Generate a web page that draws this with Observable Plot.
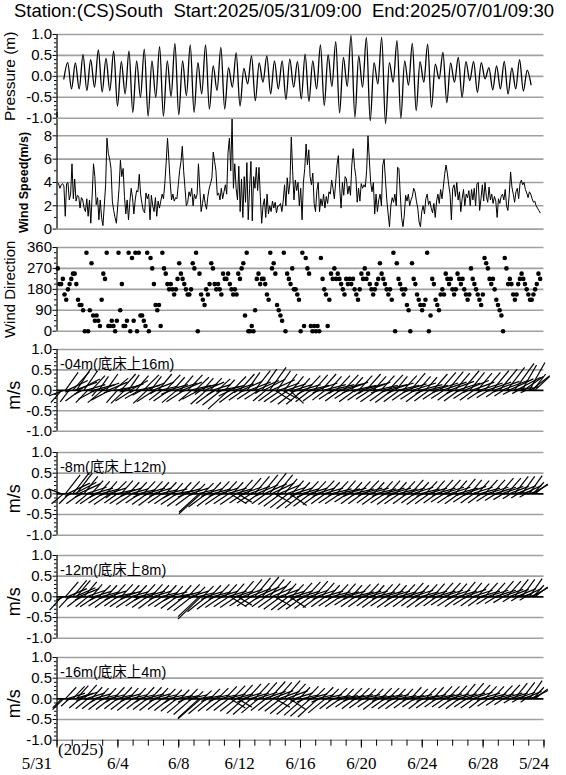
<!DOCTYPE html>
<html><head><meta charset="utf-8">
<script src="https://cdn.jsdelivr.net/npm/d3@7"></script>
<script src="https://cdn.jsdelivr.net/npm/@observablehq/plot@0.6"></script>
<style>
body{margin:0;background:#fff}
#chart{position:relative;width:566px;height:775px;overflow:hidden;background:#fff}
#title{position:absolute;left:14px;top:1px;font:18.5px "Liberation Sans",Arial,sans-serif;line-height:20px;white-space:pre;color:#000}
</style></head><body><div id="chart"><div id="title"></div></div>
<script>
// ---------- DATA ----------
const titleText = "Station:(CS)South  Start:2025/05/31/09:00  End:2025/07/01/09:30";

// Pressure (m): successive highs/lows of the tide curve
const pressureExtremes = [-0.06,
0.33,-0.30,0.32,-0.30,0.52,-0.34,0.40,-0.26,0.63,-0.37,0.43,-0.34,0.60,-0.71,0.35,-0.42,0.60,-0.86,0.37,-0.50,
0.65,-0.95,0.37,-0.50,0.71,-0.95,0.37,-0.48,0.79,-0.92,0.37,-0.46,0.75,-0.86,0.33,-0.42,0.75,-0.78,0.25,-0.34,
0.69,-0.78,0.21,-0.26,0.56,-0.71,0.19,-0.18,0.49,-0.58,0.32,-0.14,0.49,-0.42,
0.37,-0.30,0.37,-0.55,0.41,-0.26,0.35,-0.54,0.53,-0.60,0.37,-0.30,0.75,-0.70,0.51,-0.24,0.83,-0.87,0.45,-0.24,
0.98,-0.98,0.49,-0.26,0.93,-1.06,0.33,-0.18,0.93,-1.13,0.33,-0.14,0.85,-1.00,0.37,-0.21,0.79,-0.82,0.35,-0.14,
0.77,-0.74,0.29,-0.06,0.57,-0.63,0.32,-0.14,0.45,-0.50,0.35,-0.10,0.35,-0.38,0.33,-0.06,0.21,-0.32,
0.25,-0.30,0.36,-0.42,0.20,-0.30,0.40,-0.35,0.15,-0.20];
const pressureStart = 0.45, pressureEnd = 31.15; // days after 5/31 00:00

// Wind speed (m/s)
const windSpeed = [3.9,3.5,3.8,3.9,3.7,1.1,3.9,4.0,2.5,3.0,5.6,2.6,4.3,2.4,2.9,2.8,1.8,2.7,2.5,1.8,1.5,2.6,1.1,2.5,0.5,2.9,5.6,4.5,2.1,2.7,
0.8,2.5,1.0,0.3,2.0,3.8,7.8,6.5,6.0,5.2,2.4,1.6,1.0,0.5,2.0,3.5,5.9,4.5,5.2,2.8,1.3,2.5,0.8,2.3,3.5,2.7,1.3,2.5,3.3,3.2,
4.7,3.0,2.2,1.6,1.4,3.1,2.6,3.0,0.8,2.9,2.0,1.5,2.7,1.1,2.4,1.8,2.4,3.0,2.6,3.9,5.7,7.8,6.0,4.0,2.5,3.0,2.4,2.7,2.6,3.8,
5.0,5.8,7.1,5.0,3.5,2.0,2.3,3.2,2.8,3.5,2.0,3.0,2.6,3.0,5.6,3.5,1.5,2.2,3.0,2.2,1.7,2.8,3.5,3.9,4.4,6.6,5.8,5.0,2.9,3.1,
2.5,3.5,2.6,3.2,3.8,3.0,6.6,7.8,5.0,9.5,3.5,5.6,3.5,2.5,5.4,1.5,4.3,1.0,4.5,2.3,5.7,0.8,3.5,5.8,0.7,4.5,3.5,5.3,3.3,5.3,
2.8,0.5,2.0,2.6,1.0,3.0,1.3,2.0,1.5,2.4,1.8,2.3,1.4,2.0,
2.0,2.2,1.5,2.4,3.8,2.0,4.4,3.0,4.0,7.9,5.0,2.5,4.2,3.3,4.0,2.0,3.5,0.8,4.0,5.2,7.3,5.5,6.8,4.5,3.8,4.8,2.2,1.5,3.3,4.0,
1.5,2.6,2.0,3.0,1.8,2.8,2.2,3.2,3.0,4.2,3.5,2.6,4.0,5.5,6.3,3.5,1.8,4.0,2.9,4.5,4.3,3.0,3.7,2.9,5.5,6.9,5.3,4.5,2.3,3.5,
2.4,3.9,3.5,3.8,3.6,5.0,8.0,6.0,4.0,3.2,4.0,1.3,3.0,1.5,2.5,3.0,2.0,5.5,6.0,4.2,2.5,1.3,0.2,2.0,2.7,2.3,3.0,2.0,5.3,5.2,
3.0,1.0,0.2,1.2,2.9,2.4,3.0,2.0,2.5,2.8,3.5,3.2,2.4,1.8,0.6,0.2,1.5,2.0,1.3,2.6,3.0,2.1,2.4,1.8,1.4,2.2,1.0,2.4,3.0,2.2,
3.4,2.6,3.6,4.7,5.5,4.8,3.8,3.0,0.8,3.5,3.8,2.8,4.0,2.5,3.2,1.5,2.6,3.4,2.0,3.0,2.7,3.3,2.0,3.4,2.5,3.5,2.0,3.9,4.0,1.6,
2.6,3.8,2.4,4.0,2.8,2.3,3.6,2.5,3.0,2.2,2.8,2.4,1.0,2.6,2.2,2.8,3.0,
2.5,3.4,2.0,1.6,3.0,4.9,3.6,3.0,2.3,3.2,3.5,2.6,3.9,4.2,3.8,4.0,3.4,3.1,2.7,3.2,3.0,2.6,2.3,2.4,2.0,1.8,1.6,1.4];
const windStart = 0.1, windEnd = 31.75;

// Wind direction (degrees)
const windDir = [270,202.5,202.5,225,157.5,135,180,202.5,225,247.5,
247.5,202.5,135,112.5,112.5,90,0,337.5,0,90,
292.5,67.5,45,67.5,45,22.5,135,247.5,225,337.5,
22.5,22.5,45,22.5,0,45,337.5,90,202.5,22.5,
22.5,45,337.5,0,315,45,337.5,0,337.5,67.5,
67.5,45,22.5,337.5,0,315,270,202.5,112.5,90,
112.5,22.5,337.5,270,247.5,202.5,180,202.5,180,157.5,
180,225,292.5,247.5,225,202.5,180,157.5,157.5,180,
292.5,270,337.5,0,247.5,157.5,135,112.5,180,157.5,
202.5,292.5,270,202.5,180,202.5,180,157.5,247.5,225,
225,247.5,202.5,180,157.5,180,157.5,247.5,225,270,
292.5,67.5,337.5,0,0,22.5,0,90,225,247.5,
202.5,225,225,202.5,157.5,135,337.5,270,292.5,247.5,
112.5,90,67.5,45,
337.5,0,247.5,225,202.5,270,180,180,157.5,135,
0,337.5,22.5,315,270,247.5,22.5,0,22.5,0,
22.5,0,315,225,180,157.5,22.5,135,247.5,225,
270,225,247.5,225,202.5,180,157.5,225,202.5,225,
202.5,225,180,157.5,135,180,247.5,225,270,225,
247.5,202.5,180,157.5,180,202.5,225,292.5,247.5,225,
202.5,180,157.5,180,135,337.5,0,292.5,225,202.5,
180,157.5,180,112.5,90,0,292.5,225,202.5,157.5,
135,112.5,90,112.5,135,337.5,0,67.5,225,202.5,
135,112.5,90,157.5,180,157.5,247.5,225,202.5,225,
180,157.5,180,247.5,225,202.5,225,180,157.5,135,
157.5,270,225,202.5,180,157.5,135,112.5,157.5,315,
292.5,270,225,202.5,225,180,135,112.5,90,67.5,
0,315,270,
202.5,225,202.5,157.5,135,157.5,202.5,225,247.5,225,202.5,180,157.5,135,135,157.5,180,202.5,247.5,225];
const dirStart = 0.05, dirEnd = 31.75;

// Currents [east, north] in cm/s, eight samples per day
const cur04 = [
[-22,-30],[-30,-14],[26,44],[42,24],[-18,-28],[-12,-4],[34,46],[46,20],
[30,54],[44,28],[-30,-26],[-16,-10],[28,48],[40,14],[-24,-30],[10,-4],
[28,36],[44,14],[-34,-22],[-10,-14],[20,34],[38,18],[-30,-30],[-6,4],
[24,40],[40,20],[-38,-24],[-16,-6],[30,30],[44,10],[-22,-30],[8,6],
[30,40],[42,16],[-28,-32],[-14,-4],[22,38],[36,24],[-34,-26],[-8,-6],
[26,36],[46,12],[-30,-20],[-18,-12],[32,38],[40,18],[-28,-32],[6,2],
[22,34],[44,20],[-36,-28],[-12,-8],[28,40],[36,10],[-26,-24],[-10,4],
[30,38],[42,14],[-32,-26],[-20,-10],[24,32],[46,18],[-30,-30],[-8,-2],
[26,36],[40,20],[-36,-28],[-14,-4],[30,38],[44,12],[-26,-26],[8,-4],
[28,32],[42,16],[-34,-22],[-12,-10],[22,30],[40,20],[-32,-34],[-10,-2],
[24,30],[38,14],[-36,-32],[-18,-12],[26,28],[44,10],[-38,-36],[-14,-4],
[20,26],[36,12],[-42,-46],[-24,-14],[28,34],[40,16],[-34,-30],[-8,-6],
[30,40],[42,22],[-30,-24],[-12,-4],[26,44],[44,20],[-28,-22],[10,4],
[32,48],[46,24],[-28,-22],[-10,-8],[30,52],[44,28],[-26,-26],[-6,2],
[34,56],[48,26],[-30,-26],[34,-26],[28,48],[42,18],[-34,-28],[30,-20],
[26,40],[40,16],[-36,-30],[28,-32],[24,34],[38,14],[-36,-34],[-12,-4],
[22,30],[40,14],[-34,-34],[-16,-10],[28,36],[42,12],[-30,-28],[-8,-2],
[28,38],[44,18],[-30,-26],[-14,-6],[30,40],[46,14],[-26,-24],[8,2],
[26,34],[48,14],[-28,-22],[-12,-8],[28,36],[50,16],[-30,-26],[-10,-2],
[30,38],[46,20],[-26,-20],[-14,-6],[24,32],[48,12],[-32,-28],[-6,-4],
[28,36],[50,16],[-30,-24],[-12,-8],[30,40],[46,20],[-28,-22],[10,2],
[26,34],[46,12],[-34,-28],[-16,-6],[28,36],[50,14],[-30,-26],[-8,-4],
[30,38],[48,18],[-34,-30],[-14,-8],[24,34],[44,12],[-32,-28],[-6,2],
[28,36],[44,16],[-30,-24],[-12,-6],[30,42],[48,18],[-28,-22],[-10,-4],
[26,34],[46,14],[-32,-28],[-16,-8],[24,32],[42,12],[-30,-26],[8,-2],
[30,40],[48,18],[-28,-22],[-12,-6],[32,44],[50,20],[-26,-20],[-8,2],
[32,46],[50,22],[-28,-24],[-14,-8],[30,42],[48,18],[-30,-26],[-10,-4],
[34,48],[50,24],[-26,-20],[-10,-6],[30,44],[46,20],[-28,-24],[8,2],
[30,42],[48,18],[-28,-22],[-12,-6],[32,44],[50,20],[-24,-18],[-6,-2],
[34,48],[52,22],[-20,-16],[-8,-4],[36,52],[54,24],[-18,-14],[10,2],
[36,56],[50,28],[-16,-10],[26,6],[40,66],[50,32],[-12,-8],[26,8],
[30,62],[40,34],[-10,-6],[24,10],[32,68],[38,36],[26,40],[30,34]];
const cur08 = [
[-26,12],[-24,-24],[30,46],[46,26],[-20,-24],[-12,-6],[34,52],[44,28],
[32,50],[44,24],[-28,-24],[-14,-8],[28,42],[42,16],[-24,-24],[8,-2],
[24,32],[40,14],[-30,-24],[-14,-8],[22,30],[38,12],[-28,-22],[-8,-4],
[22,30],[36,14],[-32,-26],[-12,-10],[26,30],[40,10],[-26,-22],[-10,-2],
[24,32],[38,14],[-30,-24],[-12,-6],[22,28],[36,12],[-32,-26],[8,-2],
[22,28],[36,10],[-28,-22],[-16,-8],[24,30],[40,14],[-30,-26],[-10,-4],
[24,30],[38,14],[-32,-28],[-14,-6],[22,28],[36,10],[-28,-22],[-8,-2],
[22,28],[40,12],[-30,-24],[-16,-10],[20,26],[38,8],[-32,-26],[-10,-4],
[22,28],[36,12],[-34,-30],[-16,-8],[24,30],[38,14],[-32,-28],[-8,-4],
[20,24],[34,10],[-40,-44],[-44,-48],[22,26],[36,12],[-36,-32],[-14,-6],
[22,28],[38,12],[-34,-30],[-14,-6],[24,30],[38,14],[-32,-26],[-10,-4],
[24,30],[40,14],[-30,-24],[32,-24],[22,28],[36,12],[-32,-26],[28,-20],
[26,34],[40,16],[-28,-22],[-12,-4],[28,38],[42,18],[-28,-22],[-8,-2],
[30,42],[44,22],[-26,-22],[-10,-6],[32,46],[46,24],[-28,-24],[-8,-2],
[34,50],[46,26],[-30,-26],[32,-22],[32,46],[44,22],[-34,-30],[-12,-4],
[26,36],[40,16],[-36,-34],[34,-28],[24,32],[38,14],[-38,-36],[-14,-6],
[22,28],[36,12],[-36,-34],[-16,-8],[24,30],[38,14],[-34,-30],[-10,-4],
[24,30],[38,14],[-30,-26],[-14,-6],[26,32],[40,14],[-28,-24],[-8,-2],
[22,28],[42,12],[-28,-22],[-12,-4],[24,30],[44,12],[-30,-24],[-8,-4],
[24,32],[42,14],[-26,-20],[-12,-6],[22,28],[42,12],[-28,-24],[-10,-4],
[24,30],[44,14],[-28,-24],[-12,-4],[26,32],[42,14],[-26,-22],[-8,-2],
[22,28],[42,12],[-30,-26],[-14,-6],[24,30],[44,14],[-28,-22],[-10,-4],
[24,32],[42,14],[-30,-26],[-14,-6],[22,28],[40,12],[-30,-24],[-8,-2],
[24,30],[40,14],[-28,-24],[-12,-4],[26,34],[42,16],[-26,-22],[-8,-4],
[22,28],[40,12],[-30,-26],[-14,-6],[24,30],[40,14],[-28,-24],[-10,-2],
[24,32],[42,14],[-26,-22],[-12,-4],[26,34],[44,16],[-26,-20],[-8,-2],
[26,34],[42,16],[-28,-22],[-12,-6],[24,32],[42,14],[-28,-24],[-8,-4],
[26,36],[44,18],[-26,-20],[-10,-4],[24,34],[42,16],[-26,-22],[-6,-2],
[24,32],[42,14],[-26,-22],[-12,-4],[26,34],[44,16],[-24,-18],[-6,-2],
[26,34],[44,16],[-22,-16],[-8,-2],[28,38],[44,18],[-20,-14],[-4,0],
[28,38],[40,18],[-16,-12],[22,4],[28,42],[40,20],[-14,-10],[22,6],
[26,42],[36,20],[-12,-8],[22,6],[26,44],[34,22],[22,28],[26,24]];
const cur12 = [
[-24,-32],[-14,-8],[26,36],[40,20],[-20,-26],[-10,-6],[28,40],[42,22],
[28,40],[42,20],[-26,-24],[-14,-8],[26,36],[40,16],[-24,-24],[8,-2],
[22,30],[38,14],[-30,-24],[-14,-8],[24,28],[38,12],[-28,-22],[-8,-4],
[22,28],[36,14],[-30,-26],[-14,-8],[24,30],[40,10],[-26,-22],[-10,-4],
[24,30],[38,14],[-30,-24],[-12,-6],[22,28],[36,12],[-32,-26],[8,-2],
[22,28],[36,10],[-28,-22],[-14,-8],[24,30],[40,14],[-30,-26],[-10,-4],
[24,30],[38,14],[-32,-28],[-14,-6],[22,28],[36,10],[-28,-22],[-8,-2],
[22,28],[40,12],[-30,-24],[-16,-10],[20,26],[38,8],[-32,-28],[-10,-4],
[22,28],[36,12],[-34,-32],[-16,-8],[24,30],[38,14],[-36,-34],[-8,-4],
[20,24],[34,10],[-42,-48],[-46,-54],[22,26],[36,12],[-38,-36],[-14,-6],
[22,28],[38,12],[-34,-30],[-14,-6],[24,30],[38,14],[-32,-26],[-10,-4],
[24,30],[40,14],[-30,-24],[32,-24],[24,32],[38,14],[-32,-26],[28,-20],
[28,38],[42,18],[-28,-22],[-12,-4],[30,42],[44,20],[-28,-22],[-8,-2],
[32,46],[46,24],[-26,-22],[-10,-6],[34,48],[46,26],[-28,-24],[-8,-2],
[30,42],[44,22],[-30,-26],[32,-22],[28,38],[42,18],[-34,-30],[-12,-4],
[24,32],[38,14],[-34,-32],[32,-26],[24,30],[38,14],[-36,-32],[-14,-6],
[26,34],[38,14],[-34,-30],[-16,-8],[28,36],[40,16],[-32,-28],[-10,-4],
[28,38],[40,16],[-30,-26],[-14,-6],[26,34],[40,14],[-28,-24],[-8,-2],
[22,28],[40,12],[-28,-22],[-12,-4],[24,30],[42,12],[-30,-24],[-8,-4],
[24,32],[40,14],[-26,-20],[-12,-6],[22,28],[42,12],[-28,-24],[-10,-4],
[24,30],[42,14],[-28,-24],[-12,-4],[26,32],[40,14],[-26,-22],[-8,-2],
[22,28],[40,12],[-30,-26],[-14,-6],[24,30],[42,14],[-28,-22],[-10,-4],
[24,32],[40,14],[-30,-26],[-14,-6],[22,28],[38,12],[-30,-24],[-8,-2],
[24,30],[40,14],[-28,-24],[-12,-4],[26,34],[42,16],[-26,-22],[-8,-4],
[22,28],[38,12],[-30,-26],[-14,-6],[24,30],[40,14],[-28,-24],[-10,-2],
[24,32],[42,14],[-26,-22],[-12,-4],[26,34],[42,16],[-26,-20],[-8,-2],
[26,34],[42,16],[-28,-22],[-12,-6],[24,32],[40,14],[-28,-24],[-8,-4],
[26,36],[44,18],[-26,-20],[-10,-4],[24,34],[42,16],[-26,-22],[-6,-2],
[24,32],[42,14],[-26,-22],[-12,-4],[26,34],[44,16],[-24,-18],[-6,-2],
[26,34],[44,16],[-22,-16],[-8,-2],[28,38],[44,18],[-20,-14],[-4,0],
[28,38],[40,18],[-16,-12],[22,4],[28,42],[40,20],[-14,-10],[22,6],
[26,42],[36,20],[-12,-8],[22,6],[26,44],[34,22],[22,28],[26,24]];
const cur16 = [
[-18,-22],[-22,-26],[22,28],[36,14],[-16,-18],[-10,-4],[24,30],[38,14],
[24,32],[38,16],[-22,-22],[-12,-6],[26,34],[38,14],[-24,-24],[-8,-2],
[22,28],[36,12],[-26,-24],[-12,-8],[20,26],[36,10],[-28,-26],[-8,-4],
[20,26],[34,10],[-28,-26],[-12,-8],[22,28],[36,10],[-26,-24],[-8,-4],
[22,28],[36,12],[-28,-26],[-12,-6],[20,26],[34,10],[-30,-28],[-8,-2],
[20,26],[34,10],[-26,-24],[-12,-8],[22,28],[38,12],[-28,-26],[-10,-4],
[22,28],[36,12],[-30,-28],[-14,-6],[20,26],[34,10],[-28,-26],[-8,-2],
[20,24],[36,10],[-30,-28],[-14,-10],[18,22],[36,8],[-32,-30],[-10,-4],
[18,22],[34,8],[-34,-34],[-16,-8],[20,24],[36,10],[-36,-38],[-10,-4],
[16,18],[32,6],[-42,-46],[-46,-48],[18,20],[34,8],[-36,-36],[-14,-6],
[20,24],[36,10],[-32,-30],[-14,-6],[22,26],[36,10],[-30,-28],[-10,-4],
[24,30],[38,12],[-30,-28],[30,-22],[26,32],[38,12],[-32,-30],[28,-20],
[26,34],[40,14],[-34,-36],[-16,-8],[28,36],[40,14],[-36,-38],[-10,-4],
[30,38],[42,16],[-34,-34],[-12,-4],[30,40],[44,18],[-30,-28],[-8,-2],
[32,42],[44,20],[-30,-28],[30,-20],[30,40],[42,18],[-32,-30],[-10,-4],
[32,44],[44,20],[-36,-36],[32,-26],[28,36],[38,14],[-38,-38],[-14,-6],
[22,28],[36,10],[-38,-40],[-16,-8],[24,30],[38,12],[-40,-42],[-10,-4],
[22,26],[36,10],[-40,-44],[-16,-8],[24,28],[38,10],[-34,-34],[-8,-2],
[20,24],[40,8],[-26,-24],[-12,-4],[22,26],[40,8],[-28,-24],[-8,-4],
[20,24],[38,8],[-24,-20],[-12,-6],[22,26],[40,10],[-26,-24],[-10,-4],
[22,26],[40,10],[-26,-22],[-12,-4],[20,24],[38,8],[-24,-20],[-8,-2],
[20,24],[38,8],[-28,-26],[-14,-6],[22,26],[40,10],[-26,-22],[-10,-4],
[22,26],[38,10],[-28,-24],[-14,-6],[20,24],[38,8],[-28,-24],[-8,-2],
[20,24],[38,8],[-26,-22],[-12,-4],[22,28],[40,10],[-24,-20],[-8,-4],
[20,24],[38,8],[-26,-24],[-14,-6],[22,26],[38,10],[-26,-22],[-10,-2],
[22,28],[40,10],[-24,-20],[-12,-4],[24,30],[40,12],[-24,-20],[-8,-2],
[24,30],[40,12],[-26,-22],[-12,-6],[24,32],[40,12],[-26,-24],[-8,-4],
[26,36],[42,14],[-24,-20],[-10,-4],[28,38],[42,16],[-26,-22],[-6,-2],
[26,34],[42,14],[-24,-22],[-12,-4],[24,30],[40,12],[-22,-18],[-6,-2],
[24,30],[40,12],[-20,-16],[-8,-2],[26,32],[42,14],[-18,-14],[-4,0],
[26,34],[38,14],[-14,-10],[22,4],[26,38],[38,16],[-12,-8],[22,6],
[26,40],[36,18],[-10,-8],[22,6],[26,44],[34,20],[22,28],[26,24]];
const curStart = 0.3, curEnd = 31.4;
const depthLabels = ["-04m(底床上16m)", "-8m(底床上12m)", "-12m(底床上8m)", "-16m(底床上4m)"];

// Tick values and labels
const unitTicks = [-1, -0.5, 0, 0.5, 1];
const unitTickLabels = ["-1.0", "-0.5", "0.0", "0.5", "1.0"];
const unitMinor = [-0.9,-0.8,-0.7,-0.6,-0.4,-0.3,-0.2,-0.1,0.1,0.2,0.3,0.4,0.6,0.7,0.8,0.9];
const speedTicks = [0, 2, 4, 6, 8];
const speedTickLabels = ["0", "2", "4", "6", "8"];
const speedMinor = [1, 3, 5, 7, 9];
const dirTicks = [0, 90, 180, 270, 360];
const dirTickLabels = ["0", "90", "180", "270", "360"];
const dirMinor = [22.5,45,67.5,112.5,135,157.5,202.5,225,247.5,292.5,315,337.5];
const xMinorDays = [0,1,2,3,4,5,6,7,8,9,10,11,12,13,14,15,16,17,18,19,20,21,22,23,24,25,26,27,28,29,30,31,32];
const xTickDays = [0, 4, 8, 12, 16, 20, 24, 28, 32];
const xTickLabels = ["5/31", "6/4", "6/8", "6/12", "6/16", "6/20", "6/24", "6/28", "5/24"];
const yearLabel = "(2025)";

// ---------- LAYOUT ----------
const W = 566, ML = 56.5, MR = 22.5, DAYS = 32;
const STICK_X_STRETCH = 1.2; // horizontal exaggeration of current vectors
const SANS = "'Liberation Sans', Arial, sans-serif";
const SERIF = "'Liberation Serif', 'Times New Roman', serif";
const chart = document.getElementById("chart");
document.getElementById("title").textContent = titleText;

function spread(arr, a, b) { const n = arr.length; return arr.map((v, i) => ({t: a + (b - a) * i / (n - 1), v})); }

function yAxis(ticks, labels, minor, grid) {
  const lab = new Map(ticks.map((d, i) => [d, labels[i]]));
  return {
    grid: Plot.ruleY(grid, {stroke: "#a0a0a0", strokeWidth: 1.6}),
    axis: [
      Plot.axisY({ticks: minor, tickSize: 2.5, tickFormat: () => "", label: null, strokeWidth: 1}),
      Plot.axisY({ticks, tickSize: 4, tickPadding: 1, tickFormat: d => lab.get(d), label: null, fontSize: 15, fontFamily: SANS}),
      Plot.ruleX([0], {stroke: "#000", strokeWidth: 1.2})
    ]
  };
}

function addPanel(top, bottom, yDomain, marks, opt = {}) {
  const mt = 14, mb = opt.mb ?? 14;
  const svg = Plot.plot({
    width: W, height: (bottom - top) + mt + mb,
    marginLeft: ML, marginRight: MR, marginTop: mt, marginBottom: mb,
    style: {background: "transparent", fontFamily: SANS, fontSize: "15px", color: "#000", overflow: "visible"},
    x: opt.xAxis ? {domain: [0, DAYS]} : {domain: [0, DAYS], axis: null},
    y: {domain: yDomain},
    marks
  });
  svg.style.position = "absolute";
  svg.style.left = "0px";
  svg.style.top = (top - mt) + "px";
  chart.appendChild(svg);
}

function sideLabel(text, cx, size, extra = {}) {
  return Plot.text([text], {text: d => d, frameAnchor: "left", textAnchor: "middle", lineAnchor: "middle", rotate: -90, dx: cx - ML, fontSize: size, fontFamily: SANS, fill: "#000", ...extra});
}

// Panel 2: wind speed
{
  const ax = yAxis(speedTicks, speedTickLabels, speedMinor, speedTicks);
  addPanel(111.7, 228.3, [0, 10], [
    ax.grid,
    Plot.line(spread(windSpeed, windStart, windEnd), {x: "t", y: "v", stroke: "#000", strokeWidth: 1}),
    ...ax.axis,
    sideLabel("Wind Speed(m/s)", 23, 12.5, {fontWeight: "bold", dy: 11.7})
  ]);
}
// Panel 1: pressure
{
  const ax = yAxis(unitTicks, unitTickLabels, unitMinor, unitTicks);
  addPanel(34, 117.7, [-1, 1], [
    ax.grid,
    Plot.line(spread(pressureExtremes, pressureStart, pressureEnd), {x: "t", y: "v", curve: "monotone-x", stroke: "#000", strokeWidth: 1.3}),
    ...ax.axis,
    sideLabel("Pressure (m)", 10, 15.5)
  ]);
}
// Panel 3: wind direction
{
  const ax = yAxis(dirTicks, dirTickLabels, dirMinor, dirTicks);
  addPanel(247.3, 331, [0, 360], [
    ax.grid,
    Plot.dot(spread(windDir, dirStart, dirEnd), {x: "t", y: "v", r: 2.3, fill: "#000", stroke: "none"}),
    ...ax.axis,
    sideLabel("Wind Direction", 10, 15)
  ]);
}
// Panels 4-7: current sticks
const stickPanels = [[cur04, 349, 430.7], [cur08, 452.3, 535], [cur12, 554.8, 637.5], [cur16, 657.3, 740]];
stickPanels.forEach(([cur, top, bottom], k) => {
  const pxPerMs = (bottom - top) / 2;
  const pxPerDay = (W - ML - MR) / DAYS;
  const kx = STICK_X_STRETCH * pxPerMs / pxPerDay / 100; // days per cm/s
  const n = cur.length;
  const sticks = cur.map(([u, v], i) => {
    const t = curStart + (curEnd - curStart) * i / (n - 1);
    return {t, t2: t + u * kx, v: v / 100};
  });
  const ax = yAxis(unitTicks, unitTickLabels, unitMinor, [-1, -0.5, 0.5, 1]);
  const last = k === 3;
  const marks = [
    ax.grid,
    Plot.ruleY([0], {stroke: "#000", strokeWidth: 1.8}),
    Plot.link(sticks, {x1: "t", y1: () => 0, x2: "t2", y2: "v", stroke: "#000", strokeWidth: 1.2}),
    ...ax.axis,
    sideLabel("m/s", 14, 18, {dy: 5}),
    Plot.text([depthLabels[k]], {text: d => d, frameAnchor: "top-left", textAnchor: "start", lineAnchor: "bottom", dx: 3, dy: 20, fontSize: 14.5, fontFamily: SANS + ", 'Noto Sans CJK TC'", fill: "#000"})
  ];
  if (last) {
    const mid = xTickDays.map((d, i) => ({d, s: xTickLabels[i]})).slice(1, -1);
    marks.push(
      Plot.axisX({ticks: xMinorDays, tickSize: 6, tickFormat: () => "", label: null}),
      Plot.axisX({ticks: xTickDays, tickSize: 8, tickFormat: () => "", label: null}),
      Plot.text(mid, {x: "d", text: "s", frameAnchor: "bottom", lineAnchor: "top", dy: 17, fontSize: 17, fontFamily: SERIF, fill: "#000"}),
      Plot.text([{d: xTickDays[0], s: xTickLabels[0]}], {x: "d", text: "s", frameAnchor: "bottom", lineAnchor: "top", textAnchor: "end", dx: -5, dy: 17, fontSize: 17, fontFamily: SERIF, fill: "#000"}),
      Plot.text([{d: xTickDays[8], s: xTickLabels[8]}], {x: "d", text: "s", frameAnchor: "bottom", lineAnchor: "top", dx: -10, dy: 17, fontSize: 17, fontFamily: SERIF, fill: "#000"}),
      Plot.text([yearLabel], {text: d => d, frameAnchor: "bottom-left", textAnchor: "start", lineAnchor: "bottom", dx: 1, dy: 15, fontSize: 17, fontFamily: SERIF, fill: "#000"})
    );
  }
  addPanel(top, bottom, [-1, 1], marks, {xAxis: last, mb: last ? 35 : 14});
});
</script></body></html>
